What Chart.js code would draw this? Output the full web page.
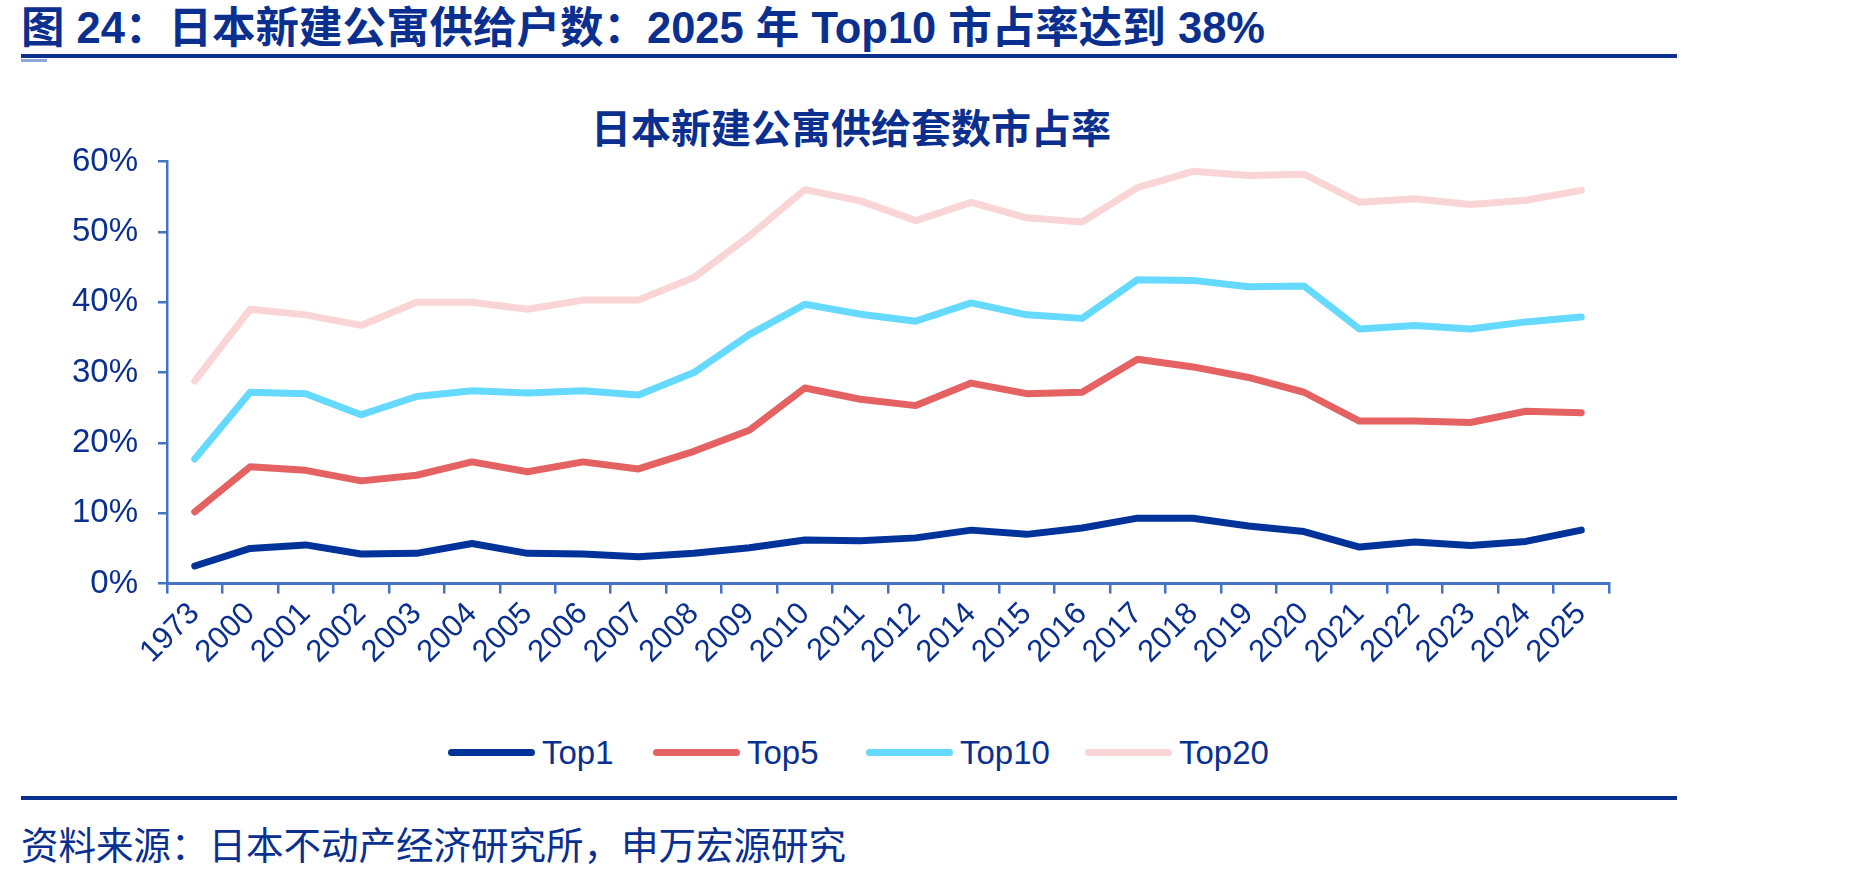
<!DOCTYPE html>
<html>
<head>
<meta charset="utf-8">
<script src="https://cdn.jsdelivr.net/npm/chart.js@4.4.1/dist/chart.umd.min.js"></script>
<style>
    body { margin: 0; width: 1849px; height: 875px; background: #fff; position: relative; overflow: hidden;
        font-family: "Liberation Sans", "Noto Sans CJK SC", sans-serif; color: #0a2f8f; }
    .abs { position: absolute; white-space: nowrap; }
    #title { left: 21px; top: 5px; font-size: 43.5px; line-height: 46px; font-weight: bold; }
    .rule { position: absolute; left: 21px; width: 1656px; height: 4px; background: #0a2f8f; }
    #chartTitle { left: 0; width: 1702px; text-align: center; top: 107px; font-size: 40px; line-height: 44px; font-weight: bold; }
    #source { left: 21px; top: 826px; font-size: 37.5px; line-height: 40px; }
    #legend { left: 0; top: 733px; height: 40px; }
    .item { position: absolute; top: 0; height: 40px; }
    .item span.swatch { position: absolute; top: 16px; width: 87px; height: 7px; border-radius: 4px; }
    .item span.label { position: absolute; left: 94px; top: 1px; font-size: 33px; line-height: 38px; }
    #wrap { position: absolute; left: 0; top: 140px; width: 1849px; height: 560px; }
</style>
</head>
<body>
<div id="title" class="abs">图 24：日本新建公寓供给户数：2025 年 Top10 市占率达到 38%</div>
<div class="rule" style="top:54px"></div>
<div class="rule" style="top:59px; width:26px; height:3px; background:#8fa6d9"></div>
<div id="chartTitle" class="abs">日本新建公寓供给套数市占率</div>
<div id="wrap"><canvas id="shareChart"></canvas></div>
<div id="legend" class="abs"></div>
<div class="rule" style="top:796px"></div>
<div id="source" class="abs">资料来源：日本不动产经济研究所，申万宏源研究</div>

<script>
const years = ['1973', '2000', '2001', '2002', '2003', '2004', '2005', '2006', '2007', '2008', '2009', '2010', '2011',
    '2012', '2014', '2015', '2016', '2017', '2018', '2019', '2020', '2021', '2022', '2023', '2024', '2025'];

// 市占率 (%)
const top1 = [2.5, 5.0, 5.5, 4.2, 4.3, 5.7, 4.3, 4.2, 3.8, 4.3, 5.1, 6.2, 6.1,
    6.5, 7.6, 7.0, 7.9, 9.3, 9.3, 8.2, 7.4, 5.2, 5.9, 5.4, 6.0, 7.6];
const top5 = [10.2, 16.6, 16.1, 14.6, 15.4, 17.3, 15.9, 17.3, 16.3, 18.8, 21.8, 27.8, 26.2,
    25.3, 28.5, 27.0, 27.2, 31.9, 30.8, 29.3, 27.2, 23.1, 23.1, 22.9, 24.5, 24.3];
const top10 = [17.7, 27.2, 27.0, 24.0, 26.6, 27.4, 27.1, 27.4, 26.8, 30.0, 35.4, 39.7, 38.3,
    37.3, 39.9, 38.2, 37.7, 43.2, 43.1, 42.2, 42.3, 36.2, 36.7, 36.2, 37.2, 37.9];
const top20 = [28.8, 39.0, 38.2, 36.7, 40.0, 40.0, 39.0, 40.3, 40.3, 43.5, 49.4, 56.0, 54.4,
    51.6, 54.2, 52.0, 51.4, 56.3, 58.6, 58.0, 58.2, 54.2, 54.7, 53.9, 54.5, 55.9];

const yTicks = [0, 10, 20, 30, 40, 50, 60];

const seriesNames = ['Top1', 'Top5', 'Top10', 'Top20'];
const seriesColors = ['#003399', '#e56262', '#66d9ff', '#f9d5d5'];

const axisColor = '#4472c4';
const textColor = '#0a2f8f';

function buildLegend() {
    const lefts = [448, 653, 866, 1085];
    const legend = document.getElementById('legend');
    seriesNames.forEach((name, i) => {
        const item = document.createElement('div');
        item.className = 'item';
        item.style.left = lefts[i] + 'px';
        item.innerHTML = '<span class="swatch" style="background:' + seriesColors[i] + '"></span>' +
            '<span class="label">' + name + '</span>';
        legend.appendChild(item);
    });
}

function initChart() {
    const values = [top1, top5, top10, top20];
    const ctx = document.getElementById('shareChart').getContext('2d');
    new Chart(ctx, {
        type: 'line',
        data: {
            labels: years,
            datasets: seriesNames.map((name, i) => ({
                label: name,
                data: values[i],
                borderColor: seriesColors[i],
                backgroundColor: seriesColors[i],
                borderWidth: 7,
                pointRadius: 0,
                tension: 0,
                borderCapStyle: 'round',
                borderJoinStyle: 'round',
                order: i
            }))
        },
        options: {
            responsive: true,
            maintainAspectRatio: false,
            animation: false,
            layout: { padding: { left: 0, right: 240, top: 21.5, bottom: 0 } },
            plugins: {
                legend: { display: false },
                title: { display: false },
                tooltip: { enabled: false }
            },
            scales: {
                x: {
                    offset: true,
                    grid: { display: true, offset: true, drawOnChartArea: false, drawTicks: true, tickLength: 10, color: axisColor, lineWidth: 2.5 },
                    border: { display: true, color: axisColor, width: 3 },
                    ticks: {
                        color: textColor,
                        font: { family: 'Liberation Sans', size: 31 },
                        minRotation: 45,
                        maxRotation: 45,
                        autoSkip: false,
                        padding: 2
                    },
                    afterFit: scale => {
                        scale.height = 116.4;
                        scale.paddingLeft = 0;
                        scale.paddingRight = 0;
                    }
                },
                y: {
                    min: yTicks[0],
                    max: yTicks[yTicks.length - 1],
                    afterBuildTicks: scale => { scale.ticks = yTicks.map(v => ({ value: v })); },
                    grid: { display: true, drawOnChartArea: false, drawTicks: true, tickLength: 9, color: axisColor, lineWidth: 2.5 },
                    border: { display: true, color: axisColor, width: 2.5 },
                    ticks: {
                        color: textColor,
                        font: { family: 'Liberation Sans', size: 33 },
                        padding: 20,
                        callback: v => v + '%'
                    },
                    afterFit: scale => {
                        scale.width = 167;
                        scale.paddingTop = 0;
                        scale.paddingBottom = 0;
                    }
                }
            }
        }
    });
}

document.addEventListener('DOMContentLoaded', () => {
    buildLegend();
    initChart();
});
</script>
</body>
</html>
